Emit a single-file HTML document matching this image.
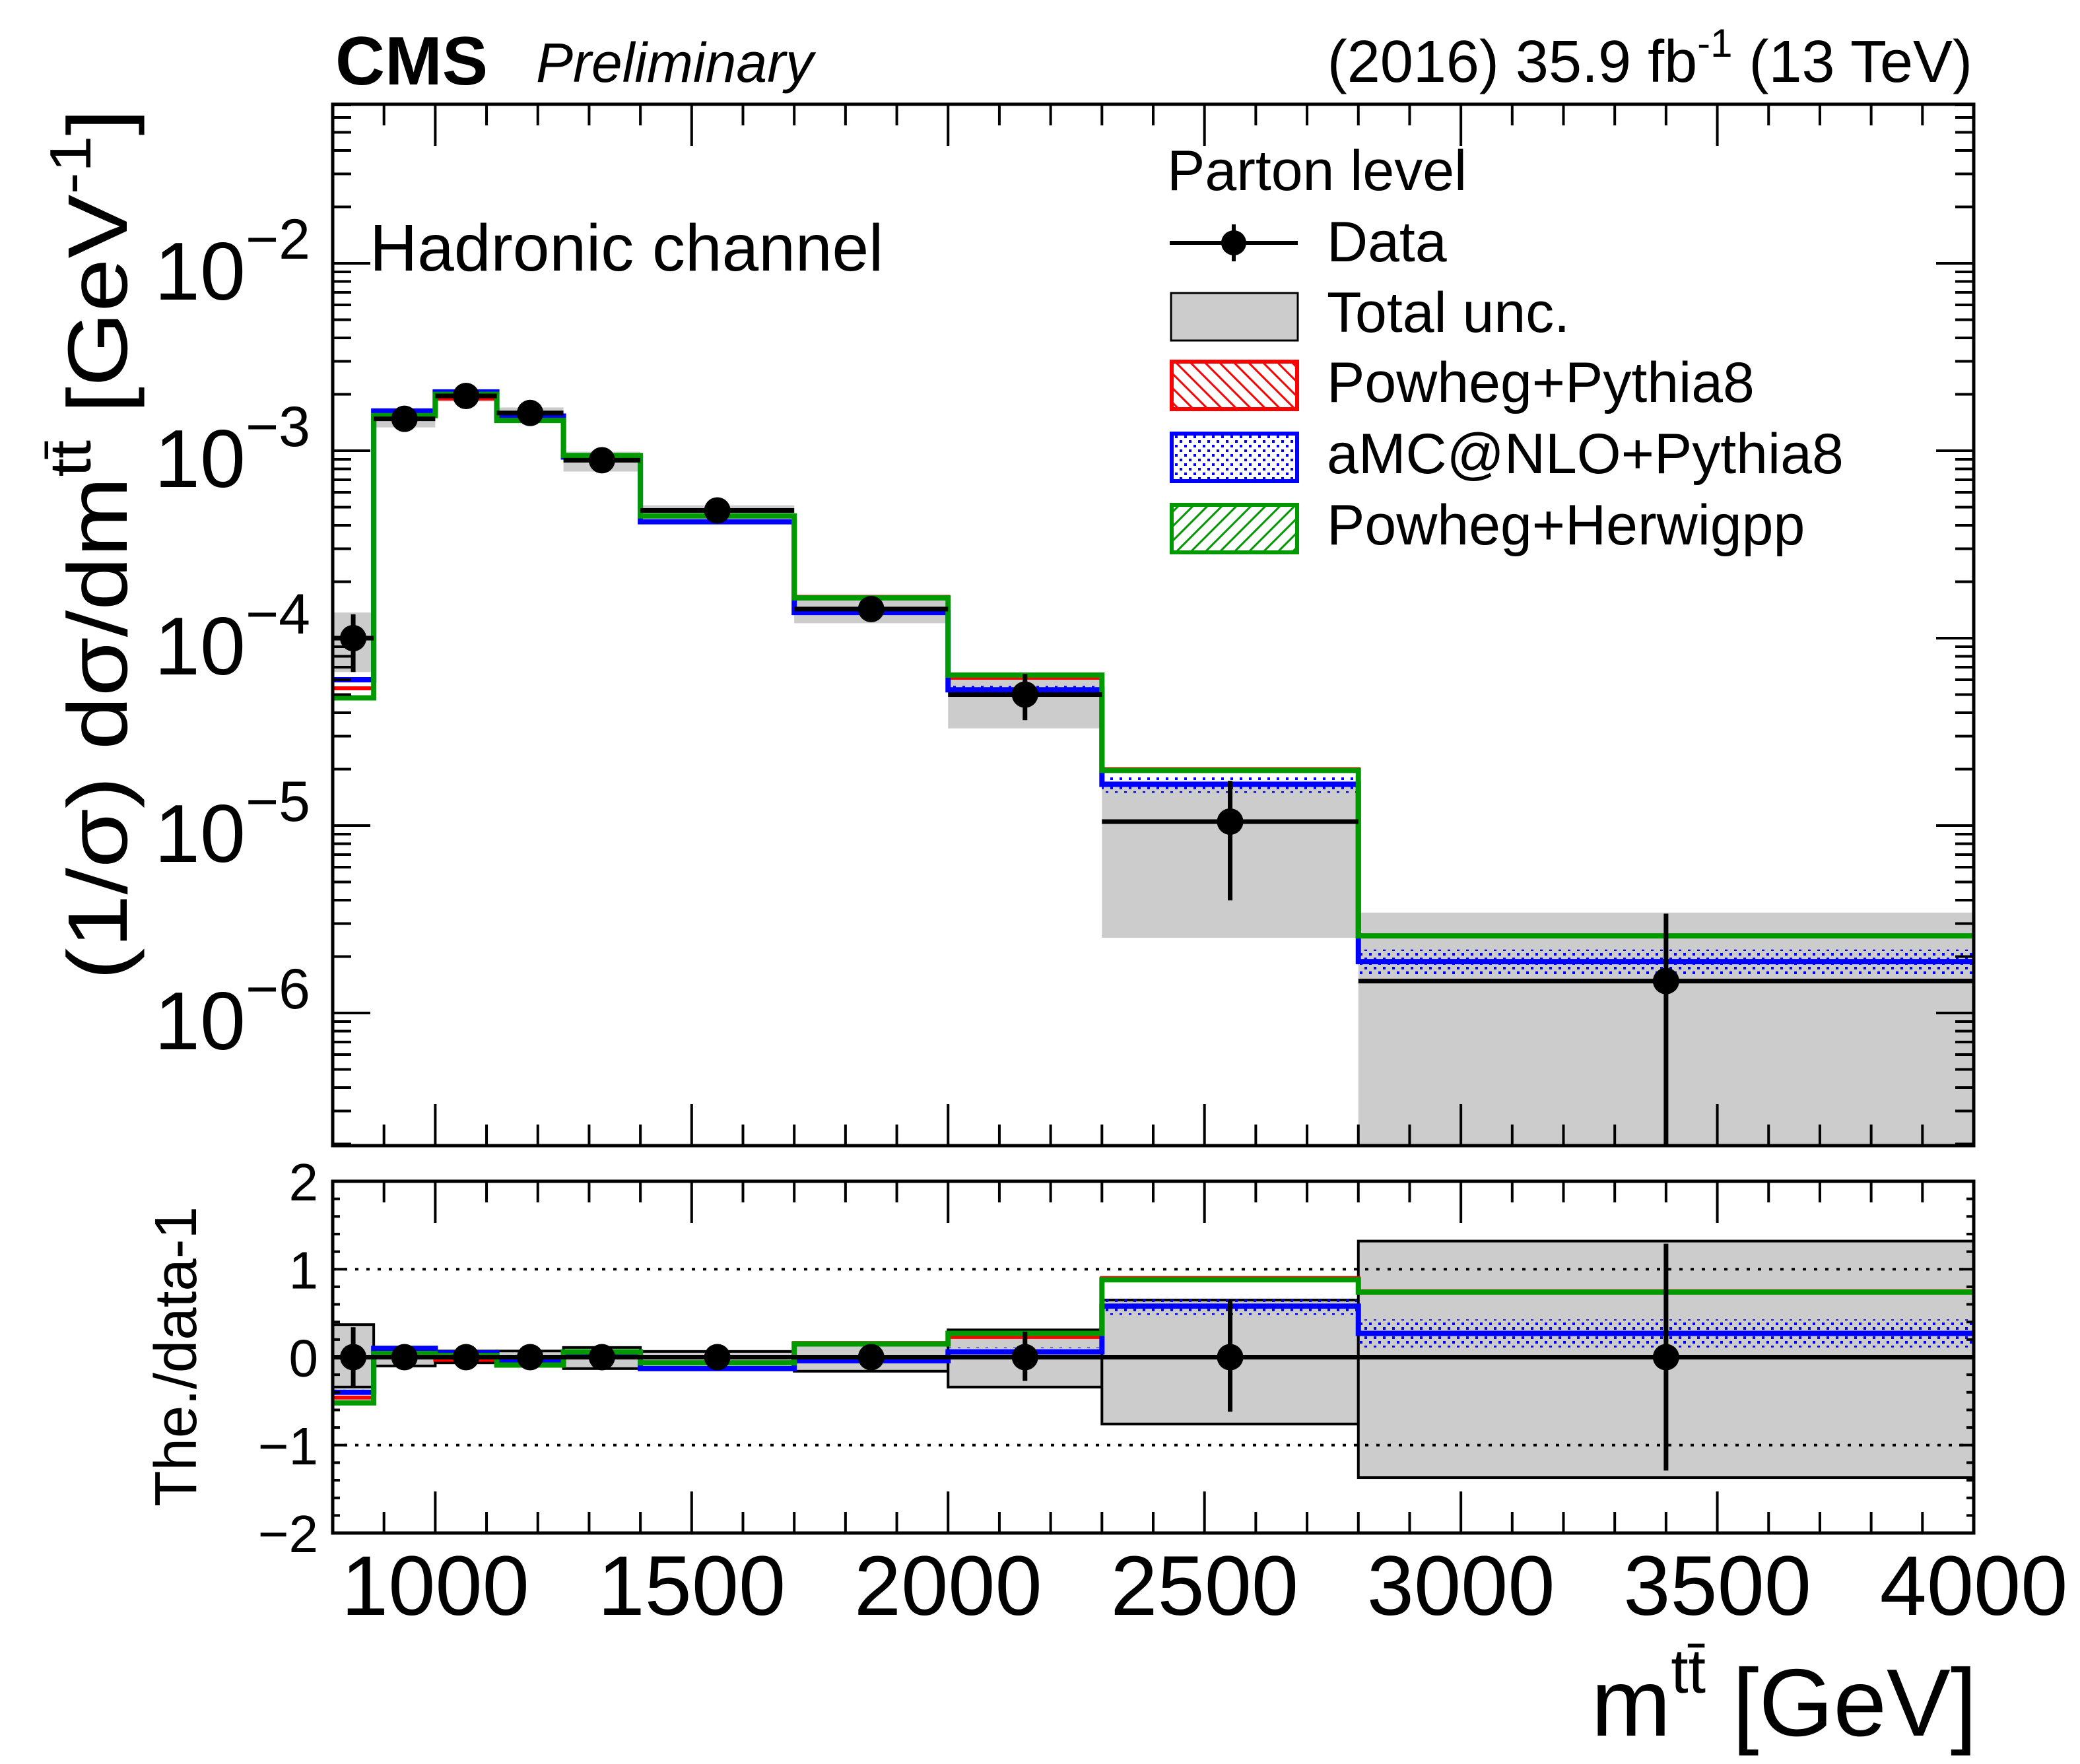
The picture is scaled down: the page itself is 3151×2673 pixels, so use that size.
<!DOCTYPE html>
<html><head><meta charset="utf-8"><style>
html,body{margin:0;padding:0;background:#fff;}
svg{display:block;font-family:"Liberation Sans",Arial,sans-serif;}
</style></head><body>
<svg id="chart" width="3151" height="2673" viewBox="0 0 3151 2673" xmlns="http://www.w3.org/2000/svg">
<defs>
<pattern id="hatchRed" patternUnits="userSpaceOnUse" width="22" height="22"><path d="M0,0 L22,22 M-11,11 L11,33 M11,-11 L33,11" stroke="#f00" stroke-width="3"/></pattern>
<pattern id="hatchGreen" patternUnits="userSpaceOnUse" width="22" height="22"><path d="M0,22 L22,0 M-11,11 L11,-11 M11,33 L33,11" stroke="#090" stroke-width="3"/></pattern>
<pattern id="dotBlue" patternUnits="userSpaceOnUse" width="14" height="14"><rect x="2" y="2" width="4" height="4" fill="#00f"/><rect x="9" y="9" width="4" height="4" fill="#00f"/></pattern>
</defs>
<g id="upper"></g>
<g id="ratio"></g>
<g id="axes"></g>

<text x="508" y="128" font-size="104" font-weight="bold">CMS</text>
<text x="812" y="124" font-size="84" font-style="italic">Preliminary</text>
<text x="2988" y="124" font-size="90" text-anchor="end">(2016) 35.9 fb<tspan font-size="60" dy="-38">-1</tspan><tspan dy="38"> (13 TeV)</tspan></text>
<text x="560" y="410" font-size="100">Hadronic channel</text>

<text transform="translate(192,1485) rotate(-90)" font-size="128" textLength="1320" lengthAdjust="spacingAndGlyphs">(1/σ) dσ/dm<tspan font-size="88" dy="-55">tt̄</tspan><tspan dy="55"> [GeV</tspan><tspan font-size="88" dy="-55">-1</tspan><tspan dy="55">]</tspan></text>
<text transform="translate(297,2283) rotate(-90)" font-size="90" textLength="455" lengthAdjust="spacingAndGlyphs">The./data-1</text>
<text x="2995" y="2630" font-size="145" text-anchor="end">m<tspan font-size="95" dy="-65">tt̄</tspan><tspan dy="65"> [GeV]</tspan></text>

<g id="legend">
<text x="1768" y="288" font-size="86">Parton level</text>
<g>
<line x1="1772" y1="368" x2="1966" y2="368" stroke="#000" stroke-width="6"/>
<line x1="1869" y1="340" x2="1869" y2="396" stroke="#000" stroke-width="6"/>
<circle cx="1869" cy="368" r="19" fill="#000"/>
<text x="2010" y="396" font-size="86">Data</text></g>
<g>
<rect x="1774" y="444" width="192" height="72" fill="#ccc" stroke="#000" stroke-width="3"/>
<text x="2010" y="503" font-size="86">Total unc.</text></g>
<g>
<rect x="1775" y="548" width="190" height="72" fill="url(#hatchRed)" stroke="#f00" stroke-width="6"/>
<text x="2010" y="609" font-size="86">Powheg+Pythia8</text></g>
<g>
<rect x="1775" y="657" width="190" height="72" fill="url(#dotBlue)" stroke="#00f" stroke-width="6"/>
<text x="2010" y="717" font-size="86">aMC@NLO+Pythia8</text></g>
<g>
<rect x="1775" y="765" width="190" height="72" fill="url(#hatchGreen)" stroke="#090" stroke-width="6"/>
<text x="2010" y="825" font-size="86">Powheg+Herwigpp</text></g>
</g>
</svg>
<script>
// ---- data ----
const binEdges = [800, 880, 1000, 1120, 1250, 1400, 1700, 2000, 2300, 2800, 4000];
const dataValues = [1.0e-4, 1.48e-3, 1.96e-3, 1.59e-3, 8.9e-4, 4.8e-4, 1.43e-4, 5.0e-5, 1.05e-5, 1.48e-6];
const dataErrUp = [0.34, 0.03, 0.03, 0.03, 0.03, 0.03, 0.10, 0.29, 0.65, 1.29];
const dataErrDown = [0.34, 0.03, 0.03, 0.03, 0.03, 0.03, 0.10, 0.27, 0.62, 1.29];
const totUncUp = [0.37, 0.10, 0.07, 0.07, 0.11, 0.065, 0.16, 0.31, 0.65, 1.32];
const totUncDown = [0.34, 0.10, 0.065, 0.06, 0.13, 0.075, 0.16, 0.34, 0.76, 1.37];
const powhegPythia = [5.4e-5, 1.54e-3, 1.90e-3, 1.49e-3, 9.35e-4, 4.46e-4, 1.66e-4, 6.15e-5, 2.0e-5, 2.59e-6];
const amcPythia = [6.0e-5, 1.63e-3, 2.06e-3, 1.53e-3, 9.26e-4, 4.18e-4, 1.37e-4, 5.3e-5, 1.66e-5, 1.88e-6];
const powhegHerwig = [4.8e-5, 1.54e-3, 2.0e-3, 1.45e-3, 9.43e-4, 4.49e-4, 1.64e-4, 6.35e-5, 1.97e-5, 2.58e-6];
const ratioPowhegPythia = [-0.46, 0.04, -0.03, -0.06, 0.05, -0.07, 0.16, 0.23, 0.90, 0.75];
const ratioAmcPythia = [-0.40, 0.10, 0.05, -0.04, 0.04, -0.13, -0.04, 0.06, 0.58, 0.27];
const ratioPowhegHerwig = [-0.52, 0.04, 0.02, -0.09, 0.06, -0.065, 0.15, 0.27, 0.88, 0.74];
const amcBandRel = [0.03, 0.02, 0.02, 0.02, 0.02, 0.02, 0.03, 0.05, 0.10, 0.16];
const xTickLabels = [1000, 1500, 2000, 2500, 3000, 3500, 4000];
const yDecades = [-2, -3, -4, -5, -6];
const ratioTickLabels = [2, 1, 0, -1, -2];

// ---- axis functions ----
const L = 504, R = 2990, UT = 158, UB = 1736, RT = 1790, RB = 2323;
const XMIN = 800, XMAX = 4000;
const YMIN = 2e-7, YMAX = 0.0706;
function X(m){ return L + (m - XMIN) / (XMAX - XMIN) * (R - L); }
const decPx = 284, y1e2 = 399;
function YU(v){ if(v<=0) return UB; let y = y1e2 + (-2 - Math.log10(v)) * decPx; return Math.max(UT, Math.min(UB, y)); }
function YR(r){ let y = RT + (2 - r) / 4 * (RB - RT); return Math.max(RT, Math.min(RB, y)); }

const NS = "http://www.w3.org/2000/svg";
function mk(parent, tag, attrs){ const e = document.createElementNS(NS, tag); for (const k in attrs) e.setAttribute(k, attrs[k]); parent.appendChild(e); return e; }
const up = document.getElementById('upper'), ra = document.getElementById('ratio'), ax = document.getElementById('axes');
const n = dataValues.length;

// ---- upper panel ----
for (let i=0;i<n;i++){
  const x0=X(binEdges[i]), x1=X(binEdges[i+1]);
  const yt=YU(dataValues[i]*(1+totUncUp[i])), yb=YU(dataValues[i]*(1-totUncDown[i]));
  const r = mk(up,'rect',{x:x0,y:yt,width:x1-x0,height:Math.max(0,yb-yt),fill:'#ccc'});
  
  
  const bt=YU(amcPythia[i]*(1+amcBandRel[i])), bb=YU(amcPythia[i]*(1-amcBandRel[i]));
  const b = mk(up,'rect',{x:x0,y:bt,width:x1-x0,height:Math.max(0,bb-bt),fill:'url(#dotBlue)'});
  
  
}
function stepPath(vals, yf){
  let d='';
  for (let i=0;i<vals.length;i++){
    const y=yf(vals[i]);
    d += (i===0?'M':'L')+X(binEdges[i])+','+y+' L'+X(binEdges[i+1])+','+y+' ';
  }
  return d;
}
const series = [[powhegPythia, ratioPowhegPythia, '#f00', 6, 'powheg-pythia8'], [amcPythia, ratioAmcPythia, '#00f', 8, 'amcatnlo-pythia8'], [powhegHerwig, ratioPowhegHerwig, '#090', 8, 'powheg-herwigpp']];
series.forEach(s=>{
  const p = mk(up,'path',{d:stepPath(s[0],YU),fill:'none',stroke:s[2],'stroke-width':s[3]});
  
  
});
for (let i=0;i<n;i++){
  const xc=X((binEdges[i]+binEdges[i+1])/2), y=YU(dataValues[i]);
  const g = mk(up,'g',{});
  
  
  mk(g,'line',{x1:X(binEdges[i]),x2:X(binEdges[i+1]),y1:y,y2:y,stroke:'#000','stroke-width':7});
  mk(g,'line',{x1:xc,x2:xc,y1:YU(dataValues[i]*(1+dataErrUp[i])),y2:YU(dataValues[i]*(1-dataErrDown[i])),stroke:'#000','stroke-width':7});
  mk(g,'circle',{cx:xc,cy:y,r:20,fill:'#000'});
}

// ---- ratio panel ----
for (let i=0;i<n;i++){
  const x0=X(binEdges[i]), x1=X(binEdges[i+1]);
  const yt=YR(totUncUp[i]), yb=YR(-totUncDown[i]);
  const r = mk(ra,'rect',{x:x0,y:yt,width:x1-x0,height:yb-yt,fill:'#ccc',stroke:'#000','stroke-width':4});
  
  
  const b = mk(ra,'rect',{x:x0,y:YR(ratioAmcPythia[i]+amcBandRel[i]),width:x1-x0,height:YR(ratioAmcPythia[i]-amcBandRel[i])-YR(ratioAmcPythia[i]+amcBandRel[i]),fill:'url(#dotBlue)'});
  
  
}
[1,-1].forEach(v=>{
  const l = mk(ra,'line',{x1:L,x2:R,y1:YR(v),y2:YR(v),stroke:'#000','stroke-width':4,'stroke-dasharray':'5,12'});
  
  
});
series.forEach(s=>{
  const p = mk(ra,'path',{d:stepPath(s[1],YR),fill:'none',stroke:s[2],'stroke-width':s[3]});
  
  
});
const zl = mk(ra,'line',{x1:L,x2:R,y1:YR(0),y2:YR(0),stroke:'#000','stroke-width':7});


for (let i=0;i<n;i++){
  const xc=X((binEdges[i]+binEdges[i+1])/2);
  const g = mk(ra,'g',{});
  
  
  mk(g,'line',{x1:xc,x2:xc,y1:YR(dataErrUp[i]),y2:YR(-dataErrDown[i]),stroke:'#000','stroke-width':7});
  mk(g,'circle',{cx:xc,cy:YR(0),r:20,fill:'#000'});
}

// ---- frames and ticks ----
function frame(t,b,name){
  const r = mk(ax,'rect',{x:L,y:t,width:R-L,height:b-t,fill:'none',stroke:'#000','stroke-width':5});
  
  
}
frame(UT,UB,'upper-frame'); frame(RT,RB,'ratio-frame');
let td='';
for (let m=900;m<4000;m+=100){
  const x=X(m), maj=(m%500===0), len=maj?63:32;
  td+=`M${x},${UT} v${len} M${x},${UB} v${-len} M${x},${RT} v${len} M${x},${RB} v${-len} `;
}
for (let e=-7;e<=-2;e++){
  for (let k=1;k<=9;k++){
    const v=k*Math.pow(10,e); if(v<YMIN||v>YMAX) continue;
    const y=YU(v), len=(k===1)?57:28;
    td+=`M${L},${y} h${len} M${R},${y} h${-len} `;
  }
}
for (let j=-10;j<=10;j++){
  const r=j/5; const y=YR(r); const len=(j%5===0)?22:11;
  td+=`M${L},${y} h${len} M${R},${y} h${-len} `;
}
const ticks = mk(ax,'path',{d:td,stroke:'#000','stroke-width':4,fill:'none'});



xTickLabels.forEach(m=>{
  const t = mk(ax,'text',{x:X(m),y:2447,'font-size':128,'text-anchor':'middle'});
  t.textContent = m;
  
  
});
yDecades.forEach(e=>{
  const y=YU(Math.pow(10,e));
  const t = mk(ax,'text',{x:470,y:y+55,'font-size':124,'text-anchor':'end'});
  
  
  const a = mk(t,'tspan',{}); a.textContent='10';
  const b = mk(t,'tspan',{dy:-62,'font-size':86}); b.textContent='\u2212'+(-e);
});
ratioTickLabels.forEach(r=>{
  const t = mk(ax,'text',{x:482,y:YR(r)+29,'font-size':80,'text-anchor':'end'});
  t.textContent = r<0 ? '\u2212'+(-r) : String(r);
  
  
});
</script>
</body></html>
